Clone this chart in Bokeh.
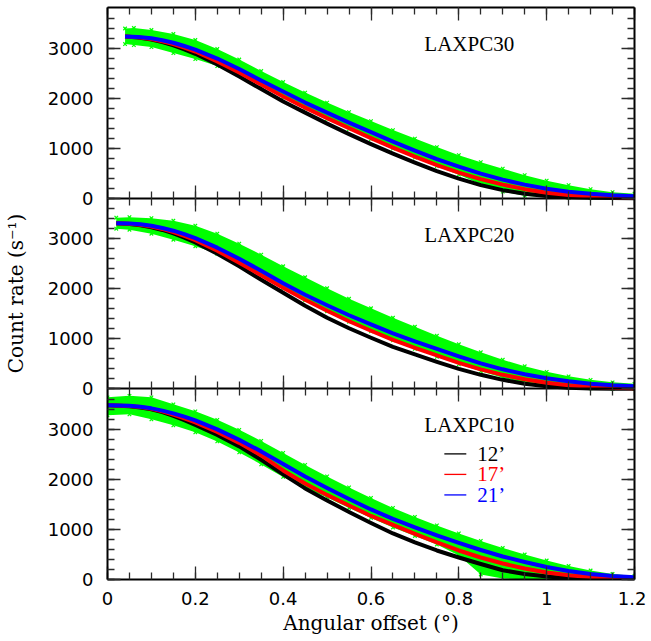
import numpy as np
from bokeh.plotting import figure
from bokeh.models import Range1d, LinearAxis, FixedTicker
from bokeh.core.properties import value
from bokeh.embed import file_html
from bokeh.resources import INLINE

# ---------------- data ----------------
x_ticks = [0, 0.2, 0.4, 0.6, 0.8, 1.0, 1.2]
x_tick_labels = ["0", "0.2", "0.4", "0.6", "0.8", "1", "1.2"]
y_ticks = [0, 1000, 2000, 3000]
y_tick_labels = ["0", "1000", "2000", "3000"]

# LAXPC30 (top panel)
x30 = [0.04, 0.07, 0.1, 0.125, 0.15, 0.175, 0.2, 0.25, 0.3, 0.35, 0.4, 0.45, 0.5,
       0.55, 0.6, 0.65, 0.7, 0.75, 0.8, 0.85, 0.9, 0.95, 1.0, 1.05, 1.1, 1.15, 1.2]
black30 = [3230, 3210, 3170, 3120, 3055, 2975, 2885, 2670, 2430, 2180, 1930, 1710, 1490,
           1280, 1080, 890, 710, 540, 390, 260, 160, 90, 45, 20, 8, 3, 0]
red30 = [3230, 3215, 3180, 3135, 3080, 3010, 2930, 2730, 2510, 2270, 2030, 1810, 1600,
         1400, 1200, 1010, 830, 660, 510, 380, 270, 180, 110, 65, 35, 20, 10]
blue30 = [3230, 3220, 3195, 3155, 3105, 3040, 2970, 2790, 2580, 2350, 2130, 1910, 1710,
          1510, 1320, 1130, 950, 780, 630, 490, 370, 270, 190, 130, 90, 60, 40]
gx30 = [0.04, 0.06, 0.1, 0.15, 0.2, 0.25, 0.3, 0.35, 0.4, 0.45, 0.5, 0.55, 0.6,
        0.65, 0.7, 0.75, 0.8, 0.85, 0.9, 0.95, 1.0, 1.05, 1.1, 1.15, 1.2]
gup30 = [3390, 3400, 3360, 3280, 3160, 2980, 2770, 2540, 2320, 2110, 1910, 1720,
         1540, 1360, 1190, 1020, 860, 720, 590, 460, 350, 260, 180, 120, 90]
glo30 = [3080, 3060, 3020, 2900, 2780, 2640, 2470, 2250, 2010, 1790, 1580, 1380,
         1180, 990, 810, 640, 470, 280, 130, 50, 20, 5, 0, 0, 0]

# LAXPC20 (middle panel)
x20 = [0.02, 0.05, 0.075, 0.1, 0.125, 0.15, 0.175, 0.2, 0.25, 0.3, 0.35, 0.4, 0.45,
       0.5, 0.55, 0.6, 0.65, 0.7, 0.75, 0.8, 0.85, 0.9, 0.95, 1.0, 1.05, 1.1, 1.15, 1.2]
black20 = [3310, 3295, 3270, 3230, 3175, 3105, 3020, 2925, 2700, 2450, 2180, 1920, 1660,
           1420, 1210, 1020, 840, 690, 540, 400, 280, 180, 100, 50, 22, 8, 3, 0]
red20 = [3310, 3300, 3280, 3245, 3195, 3130, 3055, 2970, 2760, 2520, 2270, 2020, 1780,
         1560, 1350, 1160, 980, 820, 670, 520, 390, 280, 190, 120, 70, 40, 20, 10]
blue20 = [3310, 3305, 3290, 3260, 3215, 3160, 3090, 3010, 2820, 2600, 2360, 2110, 1880,
          1670, 1470, 1290, 1110, 950, 800, 650, 510, 390, 290, 210, 150, 100, 70, 50]
gx20 = [0.02, 0.05, 0.1, 0.15, 0.2, 0.25, 0.3, 0.35, 0.4, 0.45, 0.5, 0.55, 0.6,
        0.65, 0.7, 0.75, 0.8, 0.85, 0.9, 0.95, 1.0, 1.05, 1.1, 1.15, 1.2]
gup20 = [3420, 3430, 3410, 3360, 3260, 3100, 2900, 2680, 2450, 2230, 2010, 1800,
         1610, 1420, 1240, 1060, 890, 730, 580, 450, 340, 250, 180, 130, 100]
glo20 = [3200, 3180, 3100, 2980, 2850, 2700, 2500, 2260, 2010, 1770, 1550, 1340,
         1150, 970, 800, 640, 490, 350, 220, 120, 60, 25, 10, 0, 0]

# LAXPC10 (bottom panel)
x10 = [0.0, 0.05, 0.075, 0.1, 0.125, 0.15, 0.175, 0.2, 0.25, 0.3, 0.35, 0.4, 0.45,
       0.5, 0.55, 0.6, 0.65, 0.7, 0.75, 0.8, 0.85, 0.9, 0.95, 1.0, 1.05, 1.1, 1.15, 1.2]
black10 = [3480, 3460, 3435, 3400, 3345, 3270, 3185, 3090, 2890, 2660, 2390, 2100, 1820,
           1580, 1350, 1130, 920, 740, 580, 440, 310, 185, 110, 60, 25, 10, 3, 0]
red10 = [3480, 3465, 3445, 3410, 3360, 3295, 3220, 3140, 2950, 2730, 2480, 2180, 1920,
         1690, 1480, 1270, 1090, 910, 740, 580, 440, 320, 220, 140, 85, 50, 25, 12]
blue10 = [3480, 3470, 3450, 3420, 3375, 3320, 3255, 3180, 3000, 2790, 2560, 2310, 2060,
          1830, 1610, 1400, 1210, 1040, 880, 730, 590, 460, 350, 250, 170, 110, 70, 45]
gx10 = [0.0, 0.05, 0.1, 0.15, 0.2, 0.25, 0.3, 0.35, 0.4, 0.45, 0.5, 0.55, 0.6,
        0.65, 0.7, 0.75, 0.8, 0.85, 0.9, 0.95, 1.0, 1.05, 1.1, 1.15, 1.2]
gup10 = [3640, 3670, 3640, 3500, 3360, 3190, 2990, 2770, 2530, 2290, 2060, 1840,
         1630, 1430, 1250, 1080, 920, 770, 630, 500, 380, 270, 180, 110, 70]
glo10 = [3280, 3300, 3200, 3080, 2940, 2760, 2540, 2300, 2050, 1830, 1640, 1430,
         1230, 1040, 870, 700, 480, 100, 20, 5, 0, 0, 0, 0, 0]

panel_names = ["LAXPC30", "LAXPC20", "LAXPC10"]
legend_labels = ["12\u2019", "17\u2019", "21\u2019"]
legend_colors = ["black", "red", "blue"]
legend_y = [2510, 2100, 1690]

# ---------------- layout ----------------
H = 3810  # height of one panel in counts/s
GREEN = "#00ff00"
TICK_FONT = "DejaVu Sans"
LABEL_FONT = "DejaVu Serif"
SERIF = "Liberation Serif"

p = figure(width=646, height=638, x_range=Range1d(0, 1.2), y_range=Range1d(0, 3 * H),
           output_backend="svg", toolbar_location=None,
           x_axis_type=None, y_axis_type=None,
           min_border_left=105, min_border_right=12, min_border_top=7, min_border_bottom=59)
p.outline_line_color = None
p.background_fill_color = "white"
p.extra_y_ranges = {"p30": Range1d(-2 * H, H), "p20": Range1d(-H, 2 * H), "p10": Range1d(0, 3 * H)}

xticker = FixedTicker(ticks=x_ticks, minor_ticks=list(np.round(np.arange(0, 1.2001, 0.05), 2)))
ymaj, ymin, yover = [], [], {}
for k in range(3):
    for v, lab in zip(y_ticks, y_tick_labels):
        ymaj.append(k * H + v)
        yover[k * H + v] = lab
    for m in range(0, 3700, 200):
        ymin.append(k * H + m)
yticker = FixedTicker(ticks=ymaj, minor_ticks=ymin)


def style(ax, ticks=None, labels=True, out=False):
    ax.axis_line_width = 2
    ax.axis_line_color = "black"
    ax.major_tick_in = 13
    ax.minor_tick_in = 7
    ax.major_tick_out = 13 if out else 0
    ax.minor_tick_out = 7 if out else 0
    ax.major_tick_line_color = "#2a2a2a"
    ax.minor_tick_line_color = "#2a2a2a"
    ax.major_tick_line_width = 1.3
    ax.minor_tick_line_width = 1.3
    if labels:
        ax.major_label_text_font = TICK_FONT
        ax.major_label_text_font_size = "18px"
        ax.major_label_text_color = "black"
    else:
        ax.major_label_overrides = {t: "" for t in ticks}
        ax.major_label_standoff = 0


xb = LinearAxis(ticker=xticker, major_label_overrides=dict(zip(x_ticks, x_tick_labels)),
                axis_label="Angular offset (\u00b0)")
style(xb)
xb.major_label_standoff = 12
xb.axis_label_standoff = 3
xb.axis_label_text_font = LABEL_FONT
xb.axis_label_text_font_size = "20px"
xb.axis_label_text_font_style = "normal"
xb.axis_label_text_color = "black"
p.add_layout(xb, "below")

xt = LinearAxis(ticker=xticker)
style(xt, ticks=x_ticks, labels=False)
p.add_layout(xt, "above")

for loc in [H, 2 * H]:
    xm = LinearAxis(ticker=xticker, fixed_location=loc)
    style(xm, ticks=x_ticks, labels=False, out=True)
    p.add_layout(xm, "below")

yl = LinearAxis(ticker=yticker, major_label_overrides=yover, axis_label="Count rate (s\u207b\u00b9)")
style(yl)
yl.major_label_standoff = 14
yl.axis_label_standoff = 17
yl.axis_label_text_font = LABEL_FONT
yl.axis_label_text_font_size = "20px"
yl.axis_label_text_font_style = "normal"
yl.axis_label_text_color = "black"
p.add_layout(yl, "left")

yr = LinearAxis(ticker=yticker)
style(yr, ticks=ymaj, labels=False)
p.add_layout(yr, "right")

panels = [
    ("p30", x30, black30, red30, blue30, gx30, gup30, glo30),
    ("p20", x20, black20, red20, blue20, gx20, gup20, glo20),
    ("p10", x10, black10, red10, blue10, gx10, gup10, glo10),
]
for (rn, xs, bk, rd, bl, gx, gu, gl), name in zip(panels, panel_names):
    p.varea(x=gx, y1=gl, y2=gu, fill_color=GREEN, y_range_name=rn)
    p.scatter(x=gx, y=gu, marker="x", size=5, line_color=GREEN, line_width=1.2, y_range_name=rn)
    p.scatter(x=gx, y=gl, marker="x", size=5, line_color=GREEN, line_width=1.2, y_range_name=rn)
    p.line(xs, bk, line_color="black", line_width=4, line_join="round", y_range_name=rn)
    p.line(xs, rd, line_color="red", line_width=4, line_join="round", y_range_name=rn)
    p.line(xs, bl, line_color="blue", line_width=4, line_join="round", y_range_name=rn)
    p.text(x=[0.7214], y=[3080], text=[name], text_font=value(SERIF), text_font_size="21px",
           text_color="black", text_baseline="middle", text_align="left", y_range_name=rn)

# legend in the bottom panel
p.segment(x0=[0.767] * 3, y0=legend_y, x1=[0.817] * 3, y1=legend_y,
          line_color=legend_colors, line_width=1.3, y_range_name="p10")
p.text(x=[0.842] * 3, y=legend_y, text=legend_labels, text_color=legend_colors,
       text_font=value(SERIF), text_font_size="21px", text_baseline="middle",
       text_align="left", y_range_name="p10")

open("out.html", "w").write(file_html(p, INLINE))
